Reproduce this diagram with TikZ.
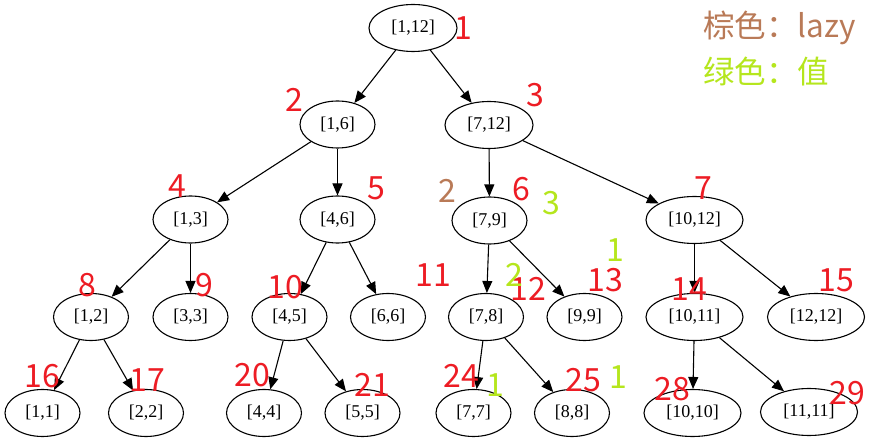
\documentclass[tikz,border=0pt]{standalone}
\usepackage{fontspec}
\setmainfont{Liberation Serif}
\newfontfamily\cjk{Noto Sans CJK SC}
\usetikzlibrary{arrows.meta,shapes.geometric}
\definecolor{pred}{RGB}{237,28,36}
\definecolor{pbrown}{RGB}{185,122,87}
\definecolor{plime}{RGB}{181,230,29}
\begin{document}
\begin{tikzpicture}[x=1pt,y=-1pt,
  seg/.style={ellipse,draw,line width=1.1pt,minimum width=75pt,minimum height=47pt,inner sep=0pt,font=\fontsize{18}{18}\selectfont},
  wide/.style={seg,minimum width=88pt},
  wider/.style={seg,minimum width=97pt},
  idx/.style={text=pred,font=\cjk\fontsize{32}{32}\selectfont,inner sep=0pt},
  lz/.style={idx,text=pbrown},
  vl/.style={idx,text=plime},
  legend/.style={font=\cjk\fontsize{31.5}{31.5}\selectfont,inner sep=0pt,anchor=base west},
  edge/.style={-{Triangle[length=12pt,width=10pt]},line width=1.1pt}
]
\useasboundingbox (0,0) rectangle (870,443);
% tree nodes
\node[wide]  (n1)  at (413,28)     {[1,12]};
\node[seg]   (n2)  at (337.5,124.5){[1,6]};
\node[wide]  (n3)  at (489,125)    {[7,12]};
\node[seg]   (n4)  at (190.5,219.5){[1,3]};
\node[seg]   (n5)  at (337.5,219.5){[4,6]};
\node[seg]   (n6)  at (489.5,220.5){[7,9]};
\node[wider] (n7)  at (694.5,220)  {[10,12]};
\node[seg]   (n8)  at (91,317)     {[1,2]};
\node[seg]   (n9)  at (190.5,317)  {[3,3]};
\node[seg]   (n10) at (289.5,317)  {[4,5]};
\node[seg]   (n11) at (388,317)    {[6,6]};
\node[seg]   (n12) at (486,317)    {[7,8]};
\node[seg]   (n13) at (584.5,317)  {[9,9]};
\node[wider] (n14) at (694.5,317)  {[10,11]};
\node[wider] (n15) at (816,317)    {[12,12]};
\node[seg]   (n16) at (42.5,413)   {[1,1]};
\node[seg]   (n17) at (146,413)    {[2,2]};
\node[seg]   (n20) at (264,413)    {[4,4]};
\node[seg]   (n21) at (362.5,413)  {[5,5]};
\node[seg]   (n24) at (473.5,413)  {[7,7]};
\node[seg]   (n25) at (572,413)    {[8,8]};
\node[wider] (n28) at (692.5,413)  {[10,10]};
\node[wider] (n29) at (809,412)    {[11,11]};
% edges
\draw[edge] (n1) -- (n2);
\draw[edge] (n1) -- (n3);
\draw[edge] (n2) -- (n4);
\draw[edge] (n2) -- (n5);
\draw[edge] (n3) -- (n6);
\draw[edge] (n3) -- (n7);
\draw[edge] (n4) -- (n8);
\draw[edge] (n4) -- (n9);
\draw[edge] (n5) -- (n10);
\draw[edge] (n5) -- (n11);
\draw[edge] (n6) -- (n12);
\draw[edge] (n6) -- (n13);
\draw[edge] (n7) -- (n14);
\draw[edge] (n7) -- (n15);
\draw[edge] (n8) -- (n16);
\draw[edge] (n8) -- (n17);
\draw[edge] (n10) -- (n20);
\draw[edge] (n10) -- (n21);
\draw[edge] (n12) -- (n24);
\draw[edge] (n12) -- (n25);
\draw[edge] (n14) -- (n28);
\draw[edge] (n14) -- (n29);
% index labels
\node[idx] (l1)  at (463,28)     {1};
\node[idx] (l2)  at (294.5,100)  {2};
\node[idx] (l3)  at (535.5,95.5) {3};
\node[idx] (l4)  at (177,186)    {4};
\node[idx] (l5)  at (376.5,188)  {5};
\node[idx] (l6)  at (521.5,189.5){6};
\node[idx] (l7)  at (703,188)    {7};
\node[idx] (l8)  at (87.5,285)   {8};
\node[idx] (l9)  at (204.5,285)  {9};
\node[idx] (l10) at (285.5,287)  {10};
\node[idx] (l11) at (433,275)    {11};
\node[idx] (l12) at (528,288.5)  {12};
\node[idx] (l13) at (605,280.5)  {13};
\node[idx] (l14) at (689.5,289)  {14};
\node[idx] (l15) at (836,280.5)  {15};
\node[idx] (l16) at (42.5,376.5) {16};
\node[idx] (l17) at (147.5,380.5){17};
\node[idx] (l20) at (252.5,375)  {20};
\node[idx] (l21) at (372.5,385)  {21};
\node[idx] (l24) at (461,375.5)  {24};
\node[idx] (l25) at (583.5,380.5){25};
\node[idx] (l28) at (672.5,389.5){28};
\node[idx] (l29) at (847.5,393)  {29};
% lazy and value labels
\node[lz] (z6)  at (447,190.5)   {2};
\node[vl] (v6)  at (551,203.5)   {3};
\node[vl] (v13) at (615,250)     {1};
\node[vl] (v12) at (514.5,274.5) {2};
\node[vl] (v24) at (495,385)     {1};
\node[vl] (v25) at (618,377.5)   {1};
% legend
\node[legend,text=pbrown] (g1) at (703,38) {棕色：lazy};
\node[legend,text=plime]  (g2) at (703,84) {绿色：值};
\end{tikzpicture}
\end{document}
